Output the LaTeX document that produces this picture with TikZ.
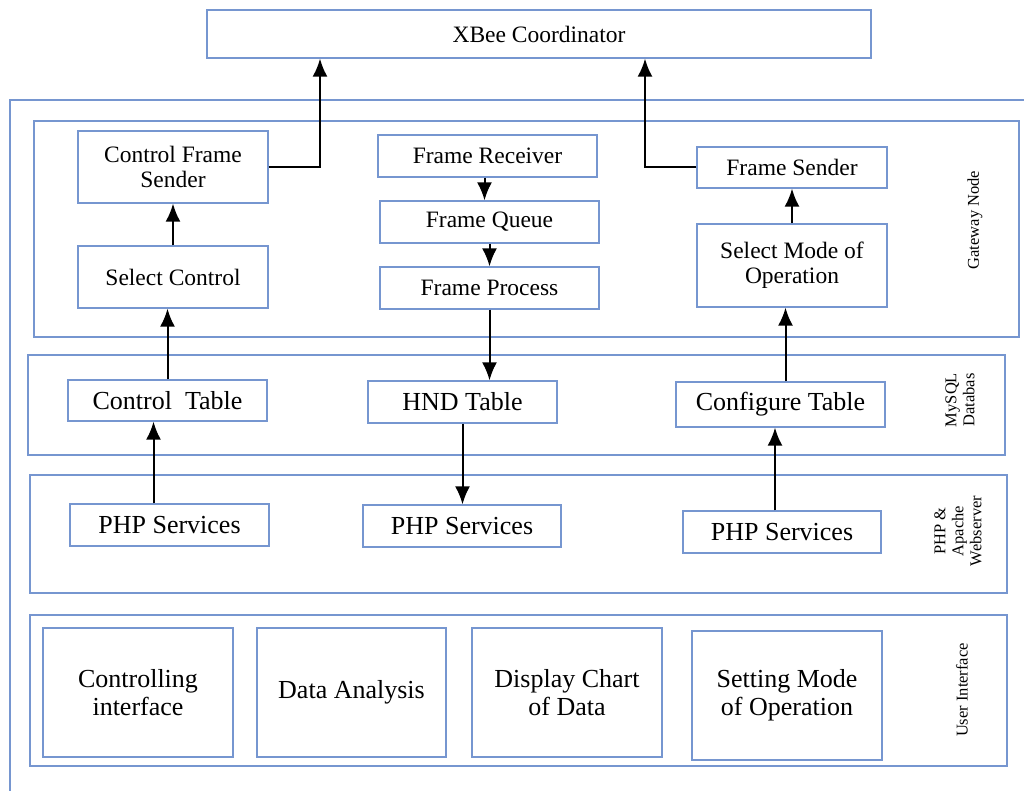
\documentclass[tikz,border=0pt]{standalone}
\usepackage{fontspec}
\setmainfont{Liberation Serif}
\usetikzlibrary{arrows.meta}
\definecolor{boxblue}{RGB}{118,150,208}
\tikzset{
  box/.style={draw=boxblue, line width=1.3pt, align=center, inner sep=2pt},
  layer/.style={draw=boxblue, line width=1.3pt},
  arr/.style={-{Latex[length=18pt,width=15pt]}, line width=2pt},
  small/.style={font=\fontsize{23.5}{25}\selectfont},
  big/.style={font=\fontsize{26}{28}\selectfont},
  side/.style={rotate=90, align=center, font=\fontsize{16.5}{18}\selectfont}
}
\begin{document}
\begin{tikzpicture}[x=1pt, y=-1pt]
\useasboundingbox (0,0) rectangle (1024,791);

% layers
\draw [layer] (10,100) rectangle (1060,830);
\draw [layer] (34,121) rectangle (1019,337);
\draw [layer] (28,355) rectangle (1005,455);
\draw [layer] (30,475) rectangle (1007,593);
\draw [layer] (30,615) rectangle (1007,766);

\node [side] (lgw) at (975,220) {Gateway Node};
\node [side] (ldb) at (960,400) {MySQL\\Databas};
\node [side] (lweb) at (958,531) {PHP \&\\Apache\\Webserver};
\node [side] (lui) at (962,690) {User Interface};

% top
\node [box, small, minimum width=664, minimum height=48] (xbee) at (539,34) {XBee Coordinator};

% gateway node
\node [box, small, minimum width=190, minimum height=72] (cfs) at (173,167) {Control Frame\\Sender};
\node [box, small, minimum width=190, minimum height=62] (sc) at (173,277) {Select Control};
\node [box, small, minimum width=219, minimum height=42] (frx) at (487.5,156) {Frame Receiver};
\node [box, small, minimum width=219, minimum height=42] (fq) at (489.5,222) {Frame Queue};
\node [box, small, minimum width=219, minimum height=42] (fp) at (489.5,288) {Frame Process};
\node [box, small, minimum width=190, minimum height=41] (fs) at (792,167.5) {Frame Sender};
\node [box, small, minimum width=190, minimum height=83] (sm) at (792,265.5) {Select Mode of\\Operation};

% database
\node [box, big, minimum width=199, minimum height=41] (ct) at (167.5,400.5) {Control\ \ Table};
\node [box, big, minimum width=189, minimum height=42] (hnd) at (462.5,402) {HND Table};
\node [box, big, minimum width=209, minimum height=45] (cfg) at (780.5,404.5) {Configure Table};

% webserver
\node [box, big, minimum width=199, minimum height=42] (php1) at (169.5,525) {PHP Services};
\node [box, big, minimum width=198, minimum height=42] (php2) at (462,526) {PHP Services};
\node [box, big, minimum width=198, minimum height=42] (php3) at (782,532) {PHP Services};

% user interface
\node [box, big, minimum width=190, minimum height=129] (ui1) at (138,692.5) {Controlling\\interface};
\node [box, big, minimum width=189, minimum height=129] (ui2) at (351.5,692.5) {Data Analysis};
\node [box, big, minimum width=190, minimum height=129] (ui3) at (567,692.5) {Display Chart\\of Data};
\node [box, big, minimum width=190, minimum height=129] (ui4) at (787,695.5) {Setting Mode\\of Operation};

% connections
\draw [arr] (cfs.east) -| ([xshift=-219pt]xbee.south);
\draw [arr] (fs.west) -| ([xshift=106pt]xbee.south);
\draw [arr] (sc) -- (cfs);
\draw [arr] (ct.north) -- (ct.north |- sc.south);
\draw [arr] ([xshift=-16pt]php1.north) -- ([xshift=-16pt]php1.north |- ct.south);
\draw [arr] ([xshift=-3pt]frx.south) -- ([xshift=-3pt]frx.south |- fq.north);
\draw [arr] (fq.south) -- (fq.south |- fp.north);
\draw [arr] (fp.south) -- (fp.south |- hnd.north);
\draw [arr] (hnd.south) -- (hnd.south |- php2.north);
\draw [arr] (sm) -- (fs);
\draw [arr] ([xshift=5pt]cfg.north) -- ([xshift=5pt]cfg.north |- sm.south);
\draw [arr] ([xshift=-7pt]php3.north) -- ([xshift=-7pt]php3.north |- cfg.south);

\end{tikzpicture}
\end{document}
